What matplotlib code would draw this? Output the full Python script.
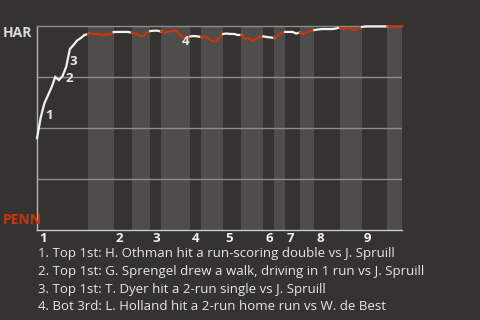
import matplotlib
matplotlib.use("Agg")
import matplotlib.pyplot as plt

plt.rcParams['font.family'] = ['Open Sans', 'DejaVu Sans']

# HAR win probability (%) after each play
har_wp = [45, 55, 62, 66, 70, 75, 73.5, 75.5, 80, 88.7, 90.7, 92.9, 94.1, 95.6, 96.1,
          96.2, 96.0, 96.2, 95.3, 96.1, 95.8, 97.0,
          97.1, 97.1, 97.1, 97.1, 96.6,
          96.4, 95.3, 95.1, 96.7, 97.5,
          97.7, 97.7, 97.3,
          96.6, 97.3, 97.5, 97.8, 96.1, 94.6, 94.1, 94.9,
          95.1, 94.9, 94.6,
          94.9, 93.9, 92.6, 92.4, 94.4, 96.1,
          96.3, 96.1, 96.1, 95.6, 95.6,
          93.6, 94.1, 92.6, 93.9, 94.6, 94.9,
          94.6, 94.4, 94.1,
          95.3, 96.6, 97.1,
          97.1, 97.1, 96.3, 96.8,
          96.1, 97.1, 97.5, 98.0,
          98.3, 98.5, 98.5, 98.5, 98.5, 98.8, 99.3,
          98.5, 99.0, 98.5, 98.0, 99.0, 99.5,
          99.8, 99.8, 99.8, 99.8, 99.8, 99.8, 99.8,
          99.8, 99.8, 99.8, 100]

# play index where each half inning starts (last entry = end of game)
half_starts = [0, 14, 21, 26, 31, 34, 42, 45, 51, 56, 62, 65, 68, 72, 76, 83, 89, 96, 100]
innings = ['1', '2', '3', '4', '5', '6', '7', '8', '9']

# key plays
note_labels = ['1', '2', '3', '4']
note_x = [3.4, 8.8, 9.9, 40.8]
note_y = [56, 74.5, 82.4, 92.6]
note_text = [
    "1. Top 1st: H. Othman hit a run-scoring double vs J. Spruill",
    "2. Top 1st: G. Sprengel drew a walk, driving in 1 run vs J. Spruill",
    "3. Top 1st: T. Dyer hit a 2-run single vs J. Spruill",
    "4. Bot 3rd: L. Holland hit a 2-run home run vs W. de Best",
]

bg = '#35332f'
band = '#4e4d4b'
red = '#c8370c'
white = '#f2f2f2'

fig = plt.figure(figsize=(4.8, 3.2), dpi=100, facecolor=bg)
ax = fig.add_axes([37/480, 90/320, 365/480, 204/320])
ax.set_facecolor(bg)
ax.set_xlim(0, 100)
ax.set_ylim(0, 100)

# bottom-half shading
for h in range(1, len(half_starts) - 1, 2):
    ax.axvspan(half_starts[h], half_starts[h + 1], color=band, lw=0, zorder=0)

for g in (25, 50, 75):
    ax.axhline(g, color='#8c8c8c', lw=1, zorder=1)

# win probability line, coloured by half inning
x = list(range(len(har_wp)))
for h in range(len(half_starts) - 1):
    s, e = half_starts[h], half_starts[h + 1]
    ax.plot(x[s:e + 1], har_wp[s:e + 1], color=white if h % 2 == 0 else red,
            lw=1.6, zorder=3, clip_on=False, solid_joinstyle='miter')

for lab, nx, ny in zip(note_labels, note_x, note_y):
    ax.text(nx, ny, lab, color='#e6e6e6', fontsize=9.5, fontweight='bold',
            ha='center', va='center', zorder=4)

for sp in ('right',):
    ax.spines[sp].set_visible(False)
ax.spines['top'].set_color('#8c8c8c')
ax.spines['left'].set_color('#b4b4b4')
ax.spines['bottom'].set_color('#c8c8c8')
for sp in ('top', 'left', 'bottom'):
    ax.spines[sp].set_linewidth(1)
ax.set_xticks([])
ax.set_yticks([])

for inn, st in zip(innings, half_starts[0::2]):
    ax.text(st + 0.5, -4, inn, color='#f2f2f2', fontsize=9.5, fontweight='bold',
            ha='left', va='center', clip_on=False)

fig.text(3/480, 1 - 33/320, 'HAR', color='#dcdcdc', fontsize=10, fontweight='bold',
         ha='left', va='center')
fig.text(3/480, 1 - 220/320, 'PENN', color=red, fontsize=10, fontweight='bold',
         ha='left', va='center')

for i, t in enumerate(note_text):
    fig.text(38/480, 1 - (254 + i * 17.6)/320, t, color='#e6e6e6', fontsize=9.5,
             ha='left', va='center')

fig.savefig('out.png', dpi=100, facecolor=bg)
